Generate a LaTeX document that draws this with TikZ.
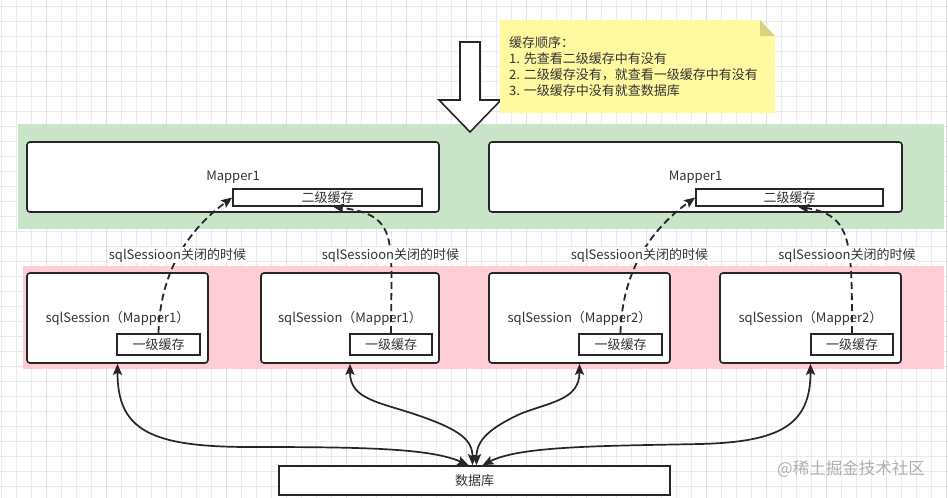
\documentclass[tikz,border=0pt]{standalone}
\usepackage{fontspec}
\setmainfont{Noto Sans CJK SC}
\usetikzlibrary{arrows.meta}
\definecolor{txt}{HTML}{333333}
\definecolor{bandgreen}{RGB}{201,228,201}
\definecolor{bandpink}{RGB}{255,205,214}
\definecolor{notey}{RGB}{255,250,160}
\definecolor{notefold}{RGB}{214,212,128}
\definecolor{gridc}{RGB}{234,234,234}
\definecolor{gridmaj}{RGB}{222,222,222}
\definecolor{edge}{RGB}{38,38,38}
\definecolor{wm}{RGB}{175,175,175}
\begin{document}
\begin{tikzpicture}[x=1pt,y=-1pt,
  font=\fontsize{13}{15}\selectfont, text=txt,
  bigbox/.style={draw=edge, line width=1.6pt, rounded corners=3pt, fill=white, inner sep=0pt},
  cachebox/.style={draw=edge, line width=1.6pt, fill=white, inner sep=0pt},
  edgelabel/.style={fill=white, inner sep=1pt},
  closeflow/.style={draw=edge, line width=1.8pt, dash pattern=on 7pt off 4pt, -{Stealth[length=11pt,width=9pt,inset=2pt]}},
  dbflow/.style={draw=edge, line width=1.7pt, {Stealth[length=11pt,width=9pt,inset=2pt]}-{Stealth[length=11pt,width=9pt,inset=2pt]}}
]
\useasboundingbox (0,0) rectangle (948,498);
\fill[white] (0,0) rectangle (948,498);
% grid
\foreach \i in {0,...,63} { \draw[gridc, line width=0.6pt] ({1.7+15*\i},0) -- ({1.7+15*\i},498); }
\foreach \j in {0,...,33} { \draw[gridc, line width=0.6pt] (0,{6+15*\j}) -- (948,{6+15*\j}); }
\foreach \i in {0,...,15} { \draw[gridmaj, line width=0.6pt] ({46.7+60*\i},0) -- ({46.7+60*\i},498); }

% bands
\fill[bandgreen] (18,124) rectangle (944,229);
\fill[bandpink] (23,266) rectangle (944,369);

% big hollow arrow
\draw[edge, line width=1.6pt, fill=white, line join=miter]
  (460,42) -- (480,42) -- (480,100) -- (501,100) -- (470,132) -- (439,100) -- (460,100) -- cycle;

% note
\fill[notey] (500,20) -- (760,20) -- (775,36) -- (775,113) -- (500,113) -- cycle;
\fill[notefold] (760,20) -- (760,36) -- (775,36) -- cycle;
\node[anchor=north west, align=left, inner sep=0pt, font=\fontsize{13}{16}\selectfont] (note) at (509,36)
  {缓存顺序：\\1. 先查看二级缓存中有没有\\2. 二级缓存没有，就查看一级缓存中有没有\\3. 一级缓存中没有就查数据库};

% mapper boxes
\node[bigbox, minimum width=412pt, minimum height=70pt] (m1) at (233,177) {Mapper1};
\node[bigbox, minimum width=413pt, minimum height=70pt] (m2) at (695.5,177) {Mapper1};
\node[cachebox, minimum width=189pt, minimum height=17pt] (c2a) at (327.5,197.5) {二级缓存};
\node[cachebox, minimum width=187pt, minimum height=17pt] (c2b) at (789.5,197.5) {二级缓存};

% sqlSession boxes
\node[bigbox, minimum width=181pt, minimum height=90pt] (s1) at (117.5,318) {sqlSession（Mapper1）};
\node[bigbox, minimum width=178pt, minimum height=90pt] (s2) at (350,318) {sqlSession（Mapper1）};
\node[bigbox, minimum width=181pt, minimum height=90pt] (s3) at (579.5,318) {sqlSession（Mapper2）};
\node[bigbox, minimum width=181pt, minimum height=90pt] (s4) at (810.5,318) {sqlSession（Mapper2）};
\node[cachebox, minimum width=83pt, minimum height=21pt] (c1a) at (158.5,344.5) {一级缓存};
\node[cachebox, minimum width=82pt, minimum height=21pt] (c1b) at (391,344.5) {一级缓存};
\node[cachebox, minimum width=83pt, minimum height=21pt] (c1c) at (620.5,344.5) {一级缓存};
\node[cachebox, minimum width=82pt, minimum height=21pt] (c1d) at (852,344.5) {一级缓存};

% database
\node[cachebox, minimum width=391pt, minimum height=29pt] (db) at (474.5,480.5) {数据库};

% dashed flows (level-1 -> level-2 on close)
\draw[closeflow] (c1a.north) .. controls (160,265) and (195,225) .. (c2a.west);
\draw[closeflow] (c1b.north) .. controls (391,240) and (400,215) .. ([xshift=5.5pt]c2a.south);
\draw[closeflow] (c1c.north) .. controls (622,265) and (657,225) .. (c2b.west);
\draw[closeflow] (c1d.north) .. controls (852,242) and (852,215) .. ([xshift=8.5pt]c2b.south);
\node[edgelabel] (l1) at (177.5,255) {sqlSessioon关闭的时候};
\node[edgelabel] (l2) at (390.5,255) {sqlSessioon关闭的时候};
\node[edgelabel] (l3) at (639.5,255) {sqlSessioon关闭的时候};
\node[edgelabel] (l4) at (847,255) {sqlSessioon关闭的时候};

% database flows
\draw[dbflow] (s1.south) .. controls (117.5,430) and (150,447) .. (250,447)
  .. controls (360,447) and (430,448) .. ([xshift=-6pt]db.north);
\draw[dbflow] (s2.south) .. controls (350,400) and (380,402) .. (420,416)
  .. controls (460,430) and (472.5,440) .. ([xshift=-2pt]db.north);
\draw[dbflow] (s3.south) .. controls (579.5,400) and (550,402) .. (520,414)
  .. controls (490,428) and (476.5,440) .. ([xshift=2pt]db.north);
\draw[dbflow] (s4.south) .. controls (810.5,425) and (780,442) .. (700,444)
  .. controls (600,446) and (520,446) .. ([xshift=8pt]db.north);

% watermark
\node[text=wm, font=\fontsize{16.5}{18}\selectfont] (wmark) at (851,469) {@稀土掘金技术社区};
\end{tikzpicture}
\end{document}
